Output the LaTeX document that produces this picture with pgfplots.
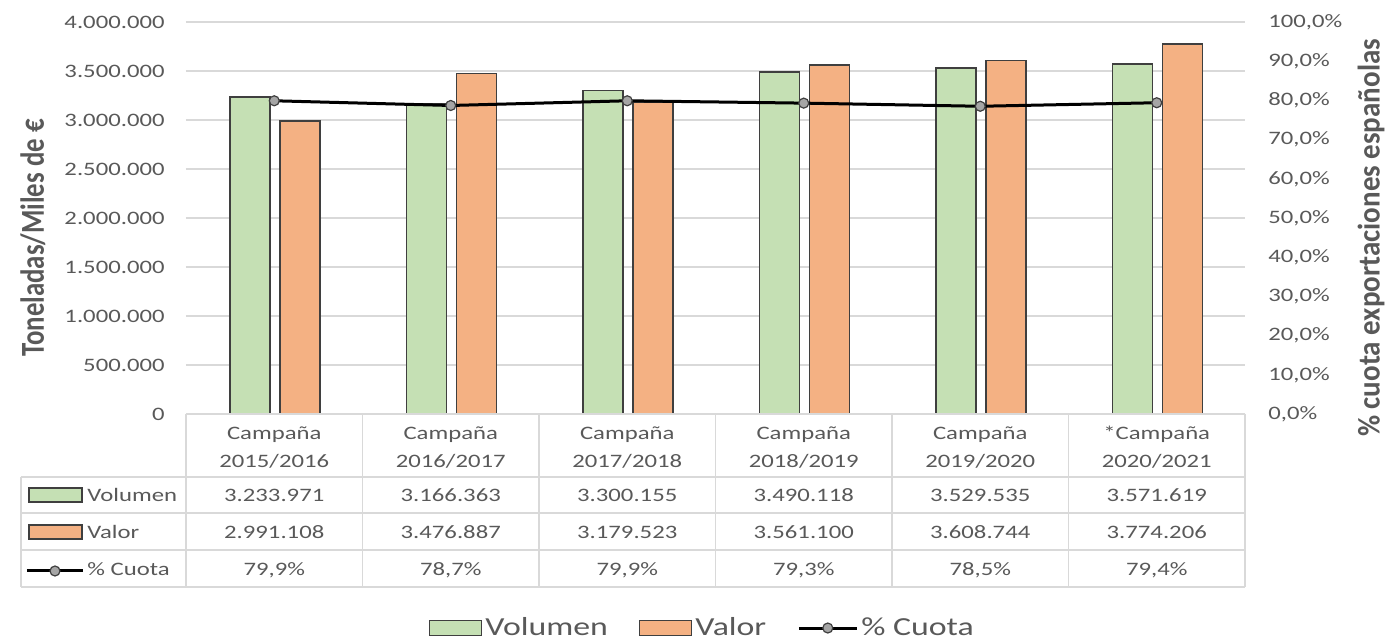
\documentclass[border=0pt]{standalone}
\usepackage{fontspec}
\setmainfont{Carlito}[FakeStretch=1.3]
\newfontfamily\titlefont{Carlito}
\usepackage{graphicx}
\usepackage{pgfplots}
\pgfplotsset{compat=1.18}

\definecolor{txt}{HTML}{595959}
\definecolor{verde}{HTML}{C5E0B4}
\definecolor{naranja}{HTML}{F4B183}
\definecolor{borde}{HTML}{3F3F3F}
\definecolor{rejilla}{HTML}{D9D9D9}
\definecolor{marca}{HTML}{A5A5A5}

\newcommand\tabfont{\fontsize{9.5}{11}\selectfont}

\pgfplotsset{
  cuota/.style={black, line width=1.5pt, mark=*, mark size=2.5pt,
    mark options={fill=marca, draw=borde, line width=0.6pt}},
  cuotaleg/.style={cuota, legend image code/.code={\draw[mark repeat=2,mark phase=2,##1] plot coordinates {(0pt,0pt) (14.5pt,0pt) (29pt,0pt)};}},
  caja/.style={legend image code/.code={\draw[##1, draw=borde, line width=0.75pt] (0pt,-3.75pt) rectangle (26pt,3.75pt);}},
}

\begin{document}
\begin{tikzpicture}
\path[use as bounding box] (-93pt,-113pt) rectangle (601pt,207pt);

\begin{axis}[
  scale only axis, width=529.5pt, height=196pt,
  xmin=-0.5, xmax=5.5, ymin=0, ymax=4000000,
  axis line style={draw=none}, major tick style={draw=none},
  xtick=\empty, scaled y ticks=false,
  ytick={0,500000,1000000,1500000,2000000,2500000,3000000,3500000,4000000},
  yticklabels={0,500.000,1.000.000,1.500.000,2.000.000,2.500.000,3.000.000,3.500.000,4.000.000},
  yticklabel style={font=\tabfont, text=txt, anchor=east, inner sep=0pt, xshift=-10.5pt},
  ymajorgrids, grid style={rejilla, line width=0.75pt},
  clip=false,
  legend style={at={(axis description cs:0.488,-0.546)}, anchor=center,
    draw=none, fill=none, legend columns=3,
    font=\fontsize{13}{15}\selectfont, text=txt,
    /tikz/every even column/.append style={column sep=14pt},
    nodes={inner sep=1.5pt}},
]
% Volumen
\addplot[ybar, bar width=20pt, bar shift=-12pt, fill=verde, draw=borde, line width=0.75pt, caja]
  coordinates {(0,3233971) (1,3166363) (2,3300155) (3,3490118) (4,3529535) (5,3571619)};
\addlegendentry{Volumen}
% Valor
\addplot[ybar, bar width=20pt, bar shift=13pt, fill=naranja, draw=borde, line width=0.75pt, caja]
  coordinates {(0,2991108) (1,3476887) (2,3179523) (3,3561100) (4,3608744) (5,3774206)};
\addlegendentry{Valor}
\addlegendimage{cuotaleg}
\addlegendentry{\% Cuota}
\end{axis}

\begin{axis}[
  scale only axis, width=529.5pt, height=196pt,
  xmin=-0.5, xmax=5.5, ymin=0, ymax=100,
  axis line style={draw=none}, major tick style={draw=none},
  xtick=\empty, yticklabel pos=right,
  ytick={0,10,...,100},
  yticklabels={{0,0\%},{10,0\%},{20,0\%},{30,0\%},{40,0\%},{50,0\%},{60,0\%},{70,0\%},{80,0\%},{90,0\%},{100,0\%}},
  yticklabel style={font=\tabfont, text=txt, anchor=west, inner sep=0pt, xshift=11.5pt},
  clip=false,
]
\addplot[cuota] coordinates {(0,79.9) (1,78.7) (2,79.9) (3,79.3) (4,78.5) (5,79.4)};
\end{axis}

% data table and axis titles, in pixel units of the reference
\begin{scope}[x=0.5pt, y=-0.5pt, shift={(-93pt,207pt)}]
  \draw[rejilla, line width=0.6pt] (186,414) -- (1245,414);
  \foreach \yy in {477,513,550,587} \draw[rejilla, line width=0.6pt] (21,\yy) -- (1245,\yy);
  \draw[rejilla, line width=0.6pt] (21,477) -- (21,587);
  \foreach \xx in {186,362.5,539,715.5,892,1068.5,1245} \draw[rejilla, line width=0.6pt] (\xx,414) -- (\xx,587);

  \begin{scope}[every node/.style={font=\tabfont, text=txt, anchor=base, inner sep=0pt}]
    \foreach \xx/\cab/\anio/\vol/\val/\cuo in {
      274.25/Campaña/2015\slash 2016/3.233.971/2.991.108/{79,9\%},
      450.75/Campaña/2016\slash 2017/3.166.363/3.476.887/{78,7\%},
      627.25/Campaña/2017\slash 2018/3.300.155/3.179.523/{79,9\%},
      803.75/Campaña/2018\slash 2019/3.490.118/3.561.100/{79,3\%},
      980.25/Campaña/2019\slash 2020/3.529.535/3.608.744/{78,5\%},
      1156.75/*Campaña/2020\slash 2021/3.571.619/3.774.206/{79,4\%}} {
      \node at (\xx,440) {\cab};
      \node at (\xx,468) {\anio};
      \node at (\xx,502) {\vol};
      \node at (\xx,539) {\val};
      \node at (\xx,576) {\cuo};
    }
    \node[anchor=base west] at (87,502) {Volumen};
    \node[anchor=base west] at (87,539) {Valor};
    \node[anchor=base west] at (87,576) {\% Cuota};
  \end{scope}
  \draw[fill=verde, draw=borde, line width=0.75pt] (29,488) rectangle (82,502);
  \draw[fill=naranja, draw=borde, line width=0.75pt] (29,525) rectangle (82,539);
  \draw[black, line width=1.5pt] (27,571) -- (83,571);
  \draw[fill=marca, draw=borde, line width=0.6pt] (55,571) circle (5);

  \node[rotate=90, text=txt, inner sep=0pt, font=\titlefont\bfseries\fontsize{13.4}{16}\selectfont]
    at (33,238) {\scalebox{1}[1.25]{Toneladas/Miles de €}};
  \node[rotate=90, text=txt, inner sep=0pt, font=\titlefont\bfseries\fontsize{14.5}{16}\selectfont]
    at (1371,238) {\scalebox{1}[1.08]{\% cuota exportaciones españolas}};
\end{scope}
\end{tikzpicture}
\end{document}
